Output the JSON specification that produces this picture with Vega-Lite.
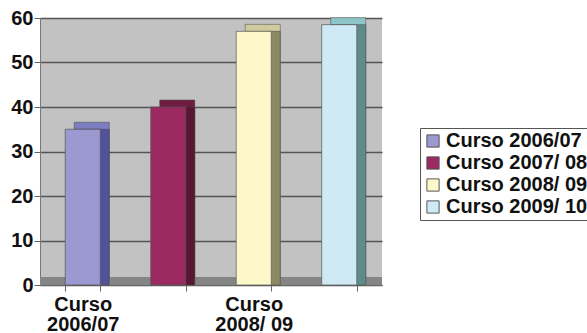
{
  "$schema": "https://vega.github.io/schema/vega-lite/v6.json",
  "width": 342,
  "height": 267,
  "autosize": {"type": "none"},
  "padding": {"left": 40, "top": 18, "right": 205, "bottom": 48},
  "background": "white",
  "config": {
    "view": {"fill": "#c2c2c2", "stroke": null},
    "font": "Liberation Sans"
  },
  "data": {
    "values": [
      {"curso": "Curso 2006/07", "valor": 35},
      {"curso": "Curso 2007/ 08", "valor": 40},
      {"curso": "Curso 2008/ 09", "valor": 57},
      {"curso": "Curso 2009/ 10", "valor": 58.5}
    ]
  },
  "encoding": {
    "x": {
      "field": "curso",
      "type": "nominal",
      "sort": null,
      "scale": {"paddingInner": 0.59, "paddingOuter": 0.295},
      "axis": {
        "title": null,
        "labelAngle": 0,
        "labelFont": "Liberation Sans",
        "labelFontSize": 20,
        "labelFontWeight": "bold",
        "labelColor": "#111",
        "labelLineHeight": 20,
        "labelPadding": 3,
        "tickBand": "extent",
        "tickSize": 6,
        "tickColor": "#666",
        "domainColor": "#666",
        "domainWidth": 1,
        "labelExpr": "datum.value == 'Curso 2006/07' || datum.value == 'Curso 2008/ 09' ? [slice(datum.label, 0, 5), slice(datum.label, 6)] : ''"
      }
    },
    "y": {
      "field": "valor",
      "type": "quantitative",
      "scale": {"domain": [0, 60], "nice": false},
      "axis": {
        "title": null,
        "values": [0, 10, 20, 30, 40, 50, 60],
        "labelFont": "Liberation Sans",
        "labelFontSize": 20,
        "labelFontWeight": "bold",
        "labelColor": "#111",
        "labelPadding": 1,
        "tickSize": 6,
        "tickColor": "#666",
        "domainColor": "#777",
        "grid": true,
        "gridColor": "#555",
        "gridWidth": 1.3
      }
    }
  },
  "layer": [
    {
      "mark": {"type": "rule", "color": "#858585", "strokeWidth": 8, "yOffset": -4},
      "encoding": {"x": null, "y": {"datum": 0}}
    },
    {
      "mark": {"type": "bar", "xOffset": 9, "yOffset": -7, "y2Offset": -7, "stroke": "#444", "strokeWidth": 0.5},
      "encoding": {
        "color": {
          "field": "curso",
          "type": "nominal",
          "sort": null,
          "scale": {"range": ["#7d7dc2", "#6e1c42", "#cfcb9c", "#8ec5c9"]},
          "legend": null
        }
      }
    },
    {
      "mark": {"type": "bar", "xOffset": 9, "stroke": "#444", "strokeWidth": 0.5},
      "encoding": {
        "color": {
          "field": "curso",
          "type": "nominal",
          "sort": null,
          "scale": {"range": ["#52529a", "#561634", "#8b8a63", "#5e8c8c"]},
          "legend": null
        }
      }
    },
    {
      "mark": {"type": "bar", "stroke": "#555", "strokeWidth": 0.7},
      "encoding": {
        "color": {
          "field": "curso",
          "type": "nominal",
          "sort": null,
          "scale": {"range": ["#9a99d0", "#9b2a60", "#fdf8ca", "#cfeaf4"]},
          "legend": {
            "title": null,
            "orient": "none",
            "legendX": 380,
            "legendY": 110,
            "direction": "vertical",
            "strokeColor": "#555",
            "fillColor": "white",
            "padding": 3,
            "symbolType": "square",
            "symbolSize": 150,
            "symbolStrokeColor": "#555",
            "symbolStrokeWidth": 1,
            "labelFont": "Liberation Sans",
            "labelFontSize": 20,
            "labelFontWeight": "bold",
            "labelColor": "#111",
            "labelOffset": 3,
            "rowPadding": 2,
            "labelLimit": 300
          }
        }
      }
    }
  ],
  "resolve": {"scale": {"color": "independent"}}
}
